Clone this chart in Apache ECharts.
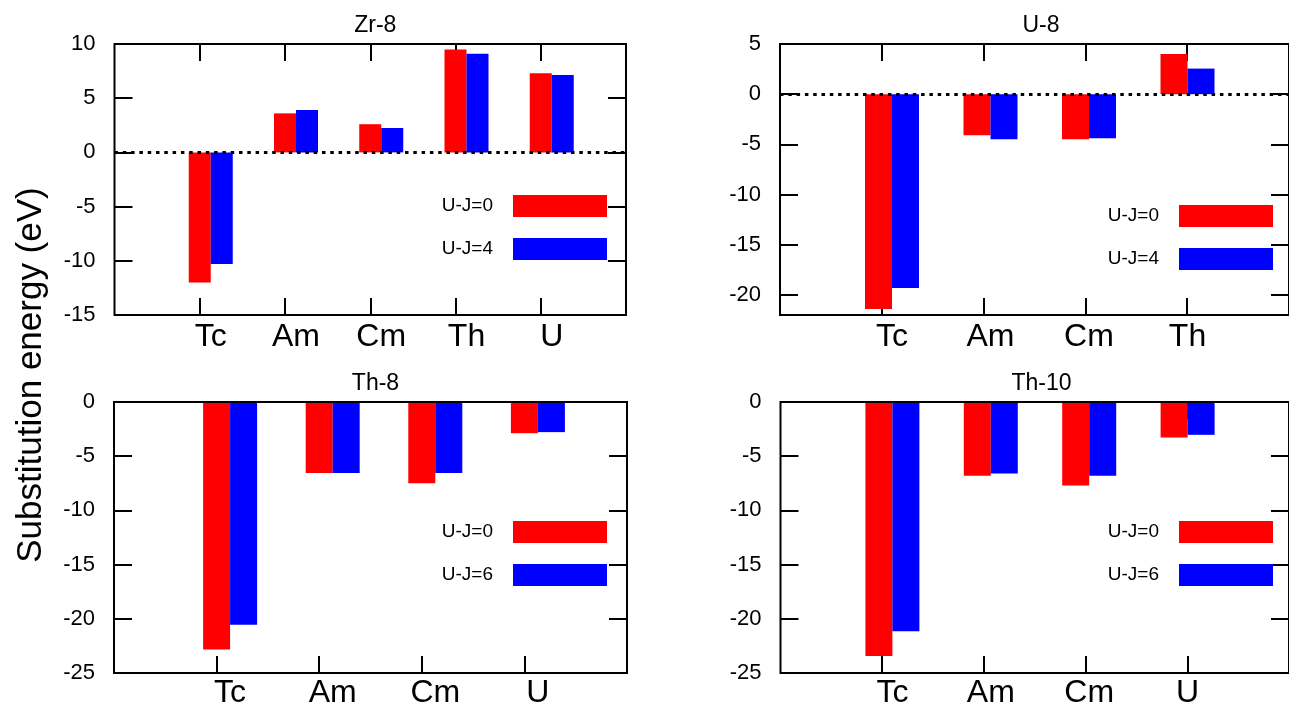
<!DOCTYPE html>
<html>
<head>
<meta charset="utf-8">
<script src="https://cdn.jsdelivr.net/npm/echarts@6/dist/echarts.min.js"></script>
<style>
html,body{margin:0;padding:0;background:#fff;}
#chart{width:1289px;height:709px;}
</style>
</head>
<body>
<div id="chart"></div>
<script>
// ---- data ----
const panelTitles = ['Zr-8', 'U-8', 'Th-8', 'Th-10'];
const catsZr8 = ['Tc', 'Am', 'Cm', 'Th', 'U'];
const catsU8 = ['Tc', 'Am', 'Cm', 'Th'];
const catsTh8 = ['Tc', 'Am', 'Cm', 'U'];
const catsTh10 = ['Tc', 'Am', 'Cm', 'U'];

const zr8_UJ0 = [-12.0, 3.6, 2.6, 9.5, 7.3];
const zr8_UJ4 = [-10.3, 3.9, 2.25, 9.1, 7.15];
const u8_UJ0 = [-21.4, -4.1, -4.5, 4.0];
const u8_UJ4 = [-19.3, -4.5, -4.4, 2.55];
const th8_UJ0 = [-23.0, -6.6, -7.55, -2.9];
const th8_UJ6 = [-20.7, -6.6, -6.6, -2.8];
const th10_UJ0 = [-23.6, -6.85, -7.75, -3.3];
const th10_UJ6 = [-21.3, -6.65, -6.85, -3.05];

const seriesNames = ['U-J=0', 'U-J=4', 'U-J=6'];

const yTicksZr8 = [-15, -10, -5, 0, 5, 10];
const yTicksU8 = [-20, -15, -10, -5, 0, 5];
const yTicksTh = [-25, -20, -15, -10, -5, 0];
const yRangeZr8 = [-15, 10];
const yRangeU8 = [-22, 5];
const yRangeTh = [-25, 0];

const yAxisName = 'Substitution energy (eV)';

// ---- layout / style ----
const FONT = 'Liberation Sans, Arial, sans-serif';
const RED = '#ff0000', BLUE = '#0000ff';

const panels = [
  { title: panelTitles[0], cats: catsZr8, a: zr8_UJ0, b: zr8_UJ4, names: [seriesNames[0], seriesNames[1]],
    ticks: yTicksZr8, range: yRangeZr8, box: { left: 114.5, top: 44, width: 511.5, height: 271 }, bw: 22,
    legend: { right: 682, top: 195 }, titleTop: 9, zero: true },
  { title: panelTitles[1], cats: catsU8, a: u8_UJ0, b: u8_UJ4, names: [seriesNames[0], seriesNames[1]],
    ticks: yTicksU8, range: yRangeU8, box: { left: 780, top: 44, width: 512, height: 271 }, bw: 27,
    legend: { right: 16, top: 205 }, titleTop: 9, zero: true },
  { title: panelTitles[2], cats: catsTh8, a: th8_UJ0, b: th8_UJ6, names: [seriesNames[0], seriesNames[2]],
    ticks: yTicksTh, range: yRangeTh, box: { left: 114, top: 402, width: 513, height: 271 }, bw: 27,
    legend: { right: 682, top: 521 }, titleTop: 367, zero: false },
  { title: panelTitles[3], cats: catsTh10, a: th10_UJ0, b: th10_UJ6, names: [seriesNames[0], seriesNames[2]],
    ticks: yTicksTh, range: yRangeTh, box: { left: 780.5, top: 402, width: 512, height: 271 }, bw: 27,
    legend: { right: 16, top: 521 }, titleTop: 367, zero: false }
];

const option = {
  animation: false,
  backgroundColor: '#fff',
  textStyle: { fontFamily: FONT },
  title: [], grid: [], xAxis: [], yAxis: [], series: [], legend: [],
  graphic: [{
    type: 'text', x: 31, y: 375, rotation: Math.PI / 2,
    style: { text: yAxisName, fontSize: 35, fontFamily: FONT, fill: '#000',
      align: 'center', verticalAlign: 'middle' }
  }]
};

panels.forEach((p, k) => {
  const n = p.cats.length;
  const gA = option.grid.length;
  // frame grid (border, ticks)
  option.grid.push({ left: p.box.left, top: p.box.top, width: p.box.width, height: p.box.height,
    show: true, borderColor: '#000', borderWidth: 2, backgroundColor: 'transparent', z: 10, containLabel: false });
  // bar grid (shifted by half bar width)
  const gB = option.grid.length;
  option.grid.push({ left: p.box.left + p.bw / 2, top: p.box.top, width: p.box.width, height: p.box.height,
    show: false, containLabel: false });

  const tickIdx = p.cats.map((c, i) => i);
  const xA0 = option.xAxis.length;
  const xTickCommon = { type: 'value', gridIndex: gA, min: -1, max: n, z: 1,
    axisLine: { show: false, onZero: false }, splitLine: { show: false },
    axisTick: { show: true, inside: true, length: 17, customValues: tickIdx, lineStyle: { color: '#000', width: 2 } },
    axisLabel: { show: false } };
  option.xAxis.push(Object.assign({ position: 'bottom' }, xTickCommon));
  option.xAxis.push(Object.assign({ position: 'top' }, xTickCommon));
  const xB = option.xAxis.length;
  option.xAxis.push({ type: 'category', gridIndex: gB, boundaryGap: false, data: [''].concat(p.cats, ['']),
    position: 'bottom', axisLine: { show: false, onZero: false }, axisTick: { show: false }, splitLine: { show: false },
    axisLabel: { show: true, interval: 0, margin: 6, fontSize: 32, color: '#000', fontFamily: FONT } });

  const yA = option.yAxis.length;
  option.yAxis.push({ type: 'value', gridIndex: gA, position: 'left', min: p.range[0], max: p.range[1], z: 1,
    axisLine: { show: false, onZero: false }, splitLine: { show: false },
    axisTick: { show: true, inside: true, length: 18, customValues: p.ticks, lineStyle: { color: '#000', width: 2 } },
    axisLabel: { show: true, customValues: p.ticks, margin: 19, fontSize: 22, color: '#000', fontFamily: FONT } });
  option.yAxis.push({ type: 'value', gridIndex: gA, position: 'right', min: p.range[0], max: p.range[1], z: 1,
    axisLine: { show: false, onZero: false }, splitLine: { show: false },
    axisTick: { show: true, inside: true, length: 18, customValues: p.ticks, lineStyle: { color: '#000', width: 2 } },
    axisLabel: { show: false } });
  const yB = option.yAxis.length;
  option.yAxis.push({ type: 'value', gridIndex: gB, min: p.range[0], max: p.range[1], show: false,
    axisLine: { onZero: false }, splitLine: { show: false } });

  option.series.push({ type: 'bar', name: p.names[0], xAxisIndex: xB, yAxisIndex: yB,
    data: [null].concat(p.a, [null]), barWidth: p.bw, barGap: '0%', z: 3, silent: true,
    itemStyle: { color: RED } });
  option.series.push({ type: 'bar', name: p.names[1], xAxisIndex: xB, yAxisIndex: yB,
    data: [null].concat(p.b, [null]), barWidth: p.bw, barGap: '0%', z: 3, silent: true,
    itemStyle: { color: BLUE } });

  if (p.zero) {
    option.series.push({ type: 'line', name: 'zero' + k, xAxisIndex: xA0, yAxisIndex: yA, data: [], z: 5,
      silent: true,
      markLine: { silent: true, symbol: 'none', label: { show: false },
        lineStyle: { color: '#000', width: 3, type: [3.5, 4.8] }, emphasis: { disabled: true },
        data: [{ yAxis: 0 }] } });
  }

  option.title.push({ text: p.title, left: p.box.left + p.box.width / 2, top: p.titleTop, textAlign: 'center',
    textStyle: { fontSize: 23, fontWeight: 'normal', color: '#000', fontFamily: FONT } });

  option.legend.push({ data: p.names, orient: 'vertical', right: p.legend.right, top: p.legend.top,
    itemWidth: 94, itemHeight: 22, itemGap: 21, align: 'right', icon: 'rect', padding: 0,
    selectedMode: false, itemStyle: { borderWidth: 0 },
    textStyle: { fontSize: 19, color: '#000', fontFamily: FONT, padding: [0, 15, 0, 0] } });
});

const chart = echarts.init(document.getElementById('chart'), null, { renderer: 'canvas' });
chart.setOption(option);
</script>
</body>
</html>
